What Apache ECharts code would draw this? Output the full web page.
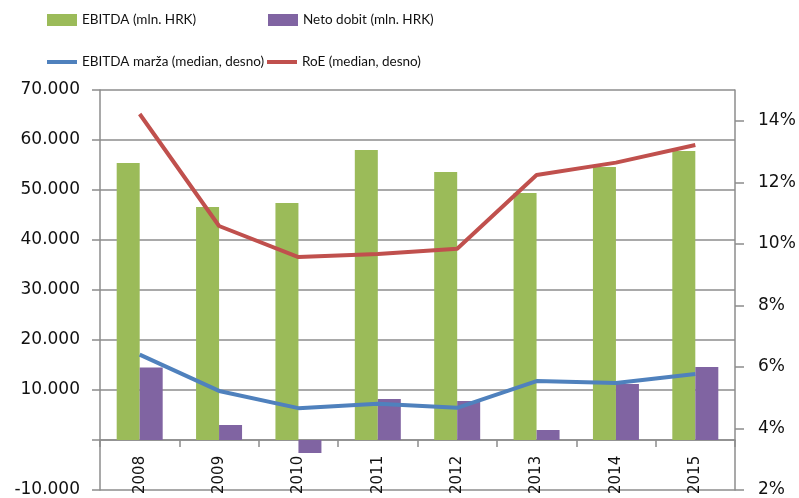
<!DOCTYPE html>
<html>
<head>
<meta charset="utf-8">
<script src="https://cdn.jsdelivr.net/npm/echarts@6/dist/echarts.min.js"></script>
<style>
  html, body { margin: 0; padding: 0; background: #fff; }
  #chart { width: 799px; height: 498px; }
</style>
</head>
<body>
<div id="chart"></div>
<script>
// godine
const years = ['2008', '2009', '2010', '2011', '2012', '2013', '2014', '2015']
// mln. HRK (lijeva os)
const ebitda = [55400, 46600, 47400, 58000, 53600, 49400, 54600, 57800]
const netoDobit = [14500, 3000, -2600, 8200, 7800, 2000, 11200, 14600]
// % (desna os)
const ebitdaMarza = [6.4, 5.22, 4.66, 4.8, 4.67, 5.54, 5.48, 5.77]
const roe = [14.22, 10.58, 9.57, 9.67, 9.84, 12.24, 12.64, 13.21]

const green = '#9BBB59'
const purple = '#8064A2'
const blue = '#4F81BD'
const red = '#C0504D'
const gridGray = '#8c8c8c'
const legendFont = { fontFamily: 'Lato', fontSize: 13.5, color: '#111' }

let chartDom = document.getElementById('chart')
let myChart = echarts.init(chartDom)
let option

function thousands(v) {
    if (v === 0) return ''
    let s = Math.abs(v).toString().replace(/\B(?=(\d{3})+(?!\d))/g, '.')
    return (v < 0 ? '-' : '') + s
}

function legendBox(left, top, item, h) {
    return {
        left: left,
        top: top,
        padding: 0,
        itemWidth: 30,
        itemHeight: h,
        textStyle: legendFont,
        data: [{ name: item, icon: 'rect' }]
    }
}

option = {
    animation: false,
    legend: [
        legendBox(47, 13, 'EBITDA (mln. HRK)', 12),
        legendBox(268, 13, 'Neto dobit (mln. HRK)', 12),
        legendBox(47, 55, 'EBITDA marža (median, desno)', 4),
        legendBox(267, 55, 'RoE (median, desno)', 4)
    ],
    grid: {
        left: 100,
        right: 64,
        top: 90,
        bottom: 8,
        outerBoundsMode: 'none'
    },
    xAxis: [
        {
            // os na nuli
            type: 'category',
            data: years,
            axisLine: { onZero: true, onZeroAxisIndex: 0, lineStyle: { color: gridGray, width: 1.5 } },
            axisTick: { show: true, length: 7, lineStyle: { color: gridGray, width: 1.5 } },
            axisLabel: { show: false }
        },
        {
            // samo oznake godina, uz donji rub
            type: 'category',
            data: years,
            position: 'bottom',
            axisLine: { show: false },
            axisTick: { show: false },
            axisLabel: {
                inside: true,
                rotate: 90,
                margin: -4,
                fontFamily: 'DejaVu Sans',
                fontSize: 15,
                color: '#111'
            }
        }
    ],
    yAxis: [
        {
            type: 'value',
            min: -10000,
            max: 70000,
            interval: 10000,
            axisLine: { show: true, lineStyle: { color: gridGray, width: 1.5 } },
            axisTick: { show: true, length: 8, lineStyle: { color: gridGray, width: 1.5 } },
            splitLine: { lineStyle: { color: gridGray, width: 1.5 } },
            axisLabel: {
                margin: 20,
                fontFamily: 'DejaVu Sans',
                fontSize: 17,
                color: '#111',
                formatter: thousands
            }
        },
        {
            type: 'value',
            min: 2,
            max: 15,
            interval: 2,
            position: 'right',
            axisLine: { show: true, lineStyle: { color: gridGray, width: 1.5 } },
            axisTick: { show: true, length: 9, lineStyle: { color: gridGray, width: 1.5 } },
            splitLine: { show: false },
            axisLabel: {
                margin: 23,
                fontFamily: 'DejaVu Sans',
                fontSize: 17,
                color: '#111',
                showMaxLabel: false,
                formatter: v => (v % 2 === 0 ? v + '%' : '')
            }
        }
    ],
    series: [
        {
            name: 'EBITDA (mln. HRK)',
            type: 'bar',
            barWidth: 23,
            barGap: '0%',
            itemStyle: { color: green },
            data: ebitda
        },
        {
            name: 'Neto dobit (mln. HRK)',
            type: 'bar',
            barWidth: 23,
            barGap: '0%',
            itemStyle: { color: purple },
            data: netoDobit
        },
        {
            name: 'EBITDA marža (median, desno)',
            type: 'line',
            yAxisIndex: 1,
            symbol: 'none',
            lineStyle: { color: blue, width: 4 },
            itemStyle: { color: blue },
            data: ebitdaMarza
        },
        {
            name: 'RoE (median, desno)',
            type: 'line',
            yAxisIndex: 1,
            symbol: 'none',
            lineStyle: { color: red, width: 4 },
            itemStyle: { color: red },
            data: roe
        }
    ]
}

option && myChart.setOption(option)
</script>
</body>
</html>
